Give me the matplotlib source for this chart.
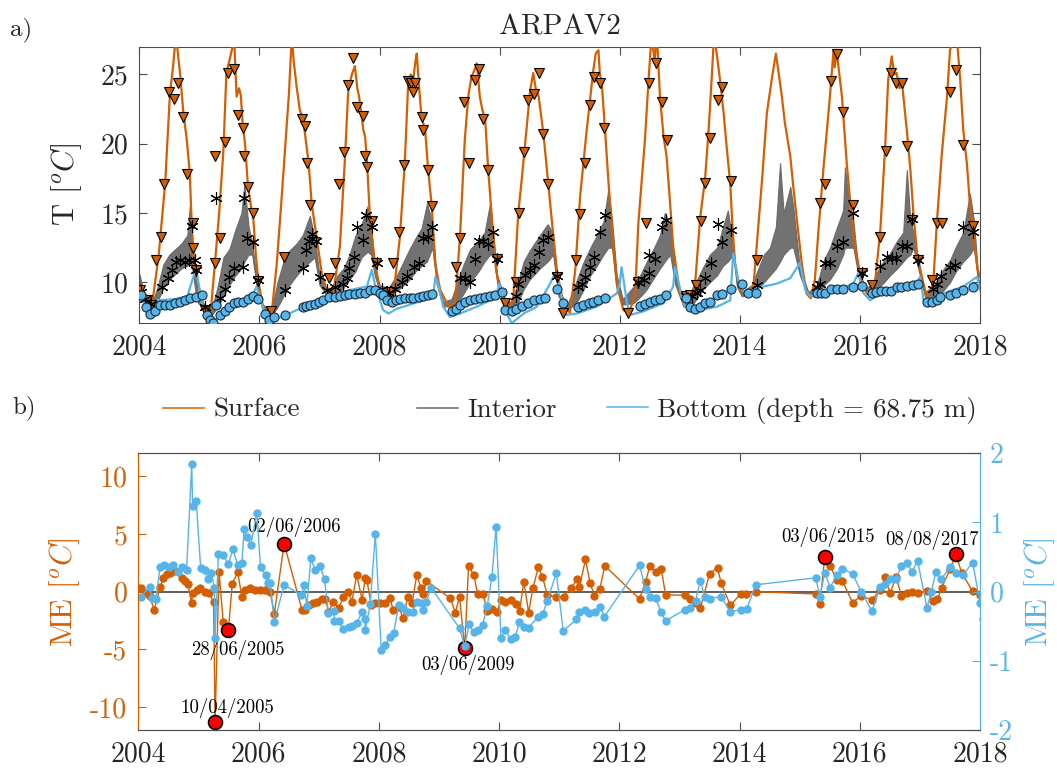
import matplotlib
matplotlib.use('Agg')
import matplotlib.pyplot as plt
from matplotlib.lines import Line2D

plt.rcParams['font.family'] = 'cmr10'
plt.rcParams['mathtext.fontset'] = 'cm'
plt.rcParams['axes.unicode_minus'] = False

ORANGE = '#D55E00'
BLUE = '#56B4E9'
GRAY = '#666666'
SPINE = '#4d4d4d'

# ---- panel a: model series (decimal year, deg C) ----
surface = [
    (2004.0, 9.45), (2004.1, 8.8), (2004.2, 8.0), (2004.32, 11.85), (2004.43, 17.1), (2004.51, 23.6),
    (2004.56, 25.5), (2004.61, 27.8), (2004.65, 26.2), (2004.68, 25.0), (2004.73, 22.4), (2004.79, 20.3),
    (2004.84, 17.9), (2004.87, 14.5), (2004.91, 11.5), (2004.95, 10.5), (2005.0, 9.5), (2005.09, 8.0),
    (2005.18, 7.5), (2005.26, 11.4), (2005.33, 15.0), (2005.4, 19.5), (2005.45, 25.1), (2005.5, 26.0),
    (2005.58, 27.5), (2005.62, 23.4), (2005.66, 24.0), (2005.69, 23.5), (2005.72, 21.5), (2005.76, 20.0),
    (2005.81, 16.9), (2005.86, 15.5), (2005.9, 14.5), (2005.94, 12.0), (2005.98, 10.2), (2006.04, 8.6),
    (2006.1, 7.8), (2006.2, 7.6), (2006.29, 11.4), (2006.36, 15.5), (2006.43, 19.8), (2006.49, 23.5),
    (2006.54, 27.8), (2006.57, 26.0), (2006.62, 24.1), (2006.67, 22.5), (2006.73, 21.7), (2006.78, 20.0),
    (2006.82, 18.6), (2006.87, 15.7), (2006.95, 13.3), (2007.04, 10.6), (2007.12, 9.45), (2007.23, 9.2),
    (2007.34, 12.6), (2007.42, 18.6), (2007.48, 23.9), (2007.54, 25.0), (2007.59, 25.6), (2007.63, 24.0),
    (2007.66, 23.4), (2007.7, 22.0), (2007.73, 21.0), (2007.76, 20.5), (2007.79, 18.8), (2007.84, 14.7),
    (2007.91, 11.85), (2008.0, 9.45), (2008.12, 9.0), (2008.23, 9.0), (2008.34, 13.3), (2008.42, 18.6),
    (2008.48, 24.6), (2008.52, 25.0), (2008.56, 24.6), (2008.6, 26.0), (2008.62, 26.5), (2008.66, 24.0),
    (2008.7, 21.9), (2008.76, 21.0), (2008.81, 18.1), (2008.87, 15.5), (2008.925, 11.4), (2009.01, 9.45),
    (2009.15, 8.25), (2009.26, 8.5), (2009.34, 13.3), (2009.42, 20.3), (2009.48, 23.5), (2009.53, 24.8),
    (2009.58, 25.3), (2009.62, 25.8), (2009.67, 23.4), (2009.71, 22.5), (2009.76, 21.7), (2009.81, 18.1),
    (2009.87, 14.7), (2009.94, 10.9), (2010.03, 9.0), (2010.15, 7.8), (2010.23, 9.0), (2010.31, 15.0),
    (2010.37, 17.5), (2010.42, 19.8), (2010.51, 23.9), (2010.56, 25.1), (2010.6, 24.0), (2010.65, 23.4),
    (2010.73, 20.7), (2010.81, 17.1), (2010.895, 13.3), (2010.95, 10.9), (2011.06, 8.5), (2011.17, 7.8),
    (2011.26, 10.9), (2011.34, 16.2), (2011.45, 21.0), (2011.56, 25.3), (2011.6, 26.5), (2011.645, 26.75),
    (2011.67, 25.0), (2011.7, 24.4), (2011.755, 21.0), (2011.81, 17.4), (2011.87, 13.8), (2011.95, 9.9),
    (2012.06, 8.0), (2012.15, 7.8), (2012.255, 9.0), (2012.31, 14.25), (2012.42, 20.3), (2012.48, 24.6),
    (2012.53, 27.8), (2012.58, 26.0), (2012.62, 27.8), (2012.67, 23.4), (2012.73, 20.5), (2012.78, 19.1),
    (2012.83, 16.2), (2012.89, 12.6), (2013.0, 9.2), (2013.12, 8.25), (2013.255, 9.9), (2013.34, 14.7),
    (2013.42, 17.4), (2013.48, 21.0), (2013.53, 24.6), (2013.57, 27.8), (2013.615, 26.5), (2013.67, 24.6),
    (2013.73, 22.2), (2013.78, 19.8), (2013.84, 17.1), (2013.88, 13.8), (2013.92, 11.4), (2014.0, 9.45),
    (2014.14, 9.0), (2014.23, 9.9), (2014.28, 12.6), (2014.37, 17.4), (2014.45, 22.2), (2014.53, 24.6),
    (2014.6, 26.5), (2014.64, 25.3), (2014.7, 23.4), (2014.75, 21.5), (2014.84, 19.1), (2014.89, 16.9),
    (2014.95, 14.5), (2015.03, 11.4), (2015.11, 9.2), (2015.18, 8.85), (2015.25, 10.2), (2015.31, 13.8),
    (2015.39, 18.1), (2015.5, 23.4), (2015.56, 26.75), (2015.58, 25.5), (2015.61, 26.75), (2015.7, 23.4),
    (2015.78, 18.6), (2015.84, 15.7), (2015.92, 12.6), (2016.0, 10.65), (2016.11, 9.2), (2016.18, 9.0),
    (2016.25, 9.9), (2016.34, 13.8), (2016.42, 19.8), (2016.47, 24.6), (2016.53, 26.3), (2016.57, 25.0),
    (2016.61, 25.1), (2016.66, 24.0), (2016.7, 24.4), (2016.78, 21.0), (2016.84, 18.1), (2016.89, 15.0),
    (2016.95, 12.1), (2017.03, 10.4), (2017.11, 9.0), (2017.22, 9.9), (2017.28, 14.25), (2017.36, 19.1),
    (2017.45, 23.4), (2017.5, 26.75), (2017.56, 27.8), (2017.61, 27.8), (2017.67, 24.6), (2017.72, 21.0),
    (2017.78, 18.6), (2017.83, 15.7), (2017.89, 13.3), (2017.96, 10.9), (2018.0, 10.4),
]

# interior: the daily series is very spiky, kept as (year, low, high) envelope
interior = [
    (2004.0, 9.0, 10.6), (2004.1, 8.4, 8.9), (2004.2, 8.0, 8.4), (2004.3, 8.6, 9.6), (2004.4, 9.6, 11.3),
    (2004.5, 10.2, 12.0), (2004.6, 10.6, 12.4), (2004.7, 11.0, 12.8), (2004.8, 11.2, 13.4), (2004.84, 11.5, 15.5),
    (2004.88, 11.0, 12.6), (2004.93, 9.5, 10.8), (2004.98, 8.5, 9.0), (2005.1, 8.0, 8.3), (2005.2, 7.6, 8.0),
    (2005.3, 8.2, 9.6), (2005.4, 9.0, 11.8), (2005.5, 9.8, 12.4), (2005.6, 10.5, 13.8), (2005.7, 11.0, 15.0),
    (2005.75, 11.5, 17.1), (2005.82, 12.0, 14.0), (2005.88, 12.0, 12.8), (2005.95, 9.8, 10.5), (2006.05, 8.0, 8.4),
    (2006.2, 7.6, 8.0), (2006.3, 8.2, 10.0), (2006.4, 9.0, 11.5), (2006.5, 9.8, 12.3), (2006.62, 10.5, 12.8),
    (2006.72, 11.0, 13.4), (2006.84, 11.5, 14.8), (2006.92, 11.8, 13.2), (2007.0, 9.8, 10.5), (2007.1, 9.2, 9.6),
    (2007.2, 9.0, 9.6), (2007.3, 9.2, 10.5), (2007.4, 9.6, 11.0), (2007.5, 10.2, 12.0), (2007.6, 10.8, 13.4),
    (2007.7, 11.8, 14.2), (2007.8, 12.2, 15.5), (2007.86, 12.0, 14.0), (2007.92, 10.5, 11.3), (2008.0, 9.4, 9.8),
    (2008.15, 9.2, 9.6), (2008.3, 9.4, 10.6), (2008.4, 9.8, 11.5), (2008.5, 10.2, 12.4), (2008.6, 10.8, 13.2),
    (2008.7, 11.2, 13.9), (2008.79, 11.5, 15.7), (2008.88, 12.5, 14.3), (2008.95, 9.9, 10.4), (2009.06, 8.25, 8.6),
    (2009.2, 8.3, 8.8), (2009.3, 8.5, 10.1), (2009.4, 9.2, 11.3), (2009.51, 10.0, 12.4), (2009.65, 10.8, 13.0),
    (2009.75, 11.5, 13.6), (2009.84, 12.0, 15.7), (2009.9, 12.0, 13.2), (2009.96, 9.9, 10.5), (2010.09, 8.5, 8.8),
    (2010.2, 8.0, 8.5), (2010.3, 8.5, 9.9), (2010.4, 9.5, 11.5), (2010.5, 10.2, 12.3), (2010.67, 11.0, 13.4),
    (2010.8, 11.5, 14.2), (2010.89, 12.0, 13.5), (2010.98, 9.0, 9.6), (2011.12, 8.0, 8.3), (2011.28, 8.5, 10.1),
    (2011.4, 9.5, 11.5), (2011.51, 10.5, 12.5), (2011.62, 11.2, 13.4), (2011.73, 12.0, 14.4), (2011.81, 12.5, 16.7),
    (2011.87, 12.5, 14.6), (2011.95, 9.5, 10.5), (2012.05, 8.4, 8.8), (2012.23, 8.5, 9.7), (2012.35, 9.0, 10.6),
    (2012.45, 9.5, 11.5), (2012.55, 10.2, 12.3), (2012.67, 11.0, 13.4), (2012.75, 11.5, 15.0), (2012.84, 12.0, 14.2),
    (2012.92, 9.9, 10.5), (2013.06, 8.25, 8.6), (2013.23, 8.5, 9.7), (2013.39, 9.5, 11.1), (2013.5, 10.0, 12.0),
    (2013.62, 10.5, 12.5), (2013.72, 11.2, 14.0), (2013.8, 11.5, 15.2), (2013.89, 12.0, 12.6), (2013.95, 9.7, 10.0),
    (2014.03, 9.0, 9.3), (2014.2, 9.2, 9.8), (2014.28, 9.5, 10.7), (2014.4, 10.0, 12.0), (2014.5, 10.5, 12.5),
    (2014.6, 11.0, 14.0), (2014.67, 11.5, 18.6), (2014.73, 12.0, 15.0), (2014.84, 12.5, 16.9), (2014.89, 12.5, 15.4),
    (2015.0, 10.5, 11.0), (2015.14, 9.0, 9.3), (2015.28, 9.0, 9.8), (2015.4, 9.8, 11.6), (2015.5, 10.2, 12.5),
    (2015.62, 11.0, 14.0), (2015.72, 12.0, 15.2), (2015.75, 12.5, 18.3), (2015.82, 12.5, 15.6), (2015.89, 12.5, 14.5),
    (2015.97, 10.6, 11.0), (2016.08, 9.4, 9.6), (2016.2, 9.3, 9.8), (2016.28, 9.5, 10.7), (2016.4, 10.0, 11.6),
    (2016.5, 10.5, 12.1), (2016.62, 11.0, 13.0), (2016.72, 11.5, 13.6), (2016.78, 11.8, 18.1), (2016.84, 12.0, 14.5),
    (2016.89, 12.5, 13.6), (2016.97, 11.0, 11.5), (2017.08, 9.0, 9.3), (2017.22, 8.5, 9.7), (2017.35, 9.2, 10.7),
    (2017.5, 10.0, 11.6), (2017.6, 10.8, 12.6), (2017.72, 11.5, 13.6), (2017.83, 12.0, 16.4), (2017.9, 12.5, 14.4),
    (2017.97, 9.9, 10.3), (2018.0, 9.6, 9.9),
]

bottom = [
    (2004.0, 9.0), (2004.08, 8.5), (2004.15, 7.65), (2004.3, 8.7), (2004.6, 8.8), (2004.8, 9.0), (2004.9, 10.4),
    (2004.95, 10.9), (2005.04, 8.5), (2005.15, 7.3), (2005.23, 7.05), (2005.34, 7.75), (2005.51, 8.25),
    (2005.73, 8.5), (2005.9, 9.2), (2005.95, 9.7), (2006.0, 9.0), (2006.09, 7.8), (2006.18, 7.3), (2006.37, 7.5),
    (2006.62, 8.0), (2006.95, 8.5), (2007.18, 9.0), (2007.51, 9.45), (2007.79, 9.7), (2007.87, 10.9),
    (2007.92, 9.9), (2008.06, 8.0), (2008.15, 7.75), (2008.29, 8.1), (2008.73, 8.7), (2008.9, 9.2),
    (2008.93, 10.4), (2008.97, 10.0), (2009.06, 8.25), (2009.17, 7.5), (2009.34, 7.75), (2009.62, 8.25),
    (2009.84, 8.7), (2009.95, 9.2), (2009.995, 9.9), (2010.09, 8.0), (2010.2, 7.05), (2010.4, 7.75),
    (2010.62, 8.25), (2010.84, 9.9), (2010.92, 10.65), (2010.97, 10.4), (2011.06, 8.25), (2011.12, 7.65),
    (2011.28, 7.75), (2011.62, 8.25), (2011.95, 9.2), (2012.0, 9.9), (2012.03, 11.1), (2012.07, 10.0),
    (2012.12, 8.5), (2012.17, 7.65), (2012.39, 7.9), (2012.73, 8.5), (2012.89, 9.7), (2012.92, 11.1),
    (2012.97, 10.2), (2013.06, 8.5), (2013.14, 8.0), (2013.34, 8.0), (2013.62, 8.25), (2013.84, 8.7),
    (2013.89, 12.1), (2013.95, 10.65), (2014.0, 9.7), (2014.14, 9.0), (2014.28, 9.6), (2014.61, 9.9),
    (2014.84, 10.3), (2015.0, 11.4), (2015.09, 9.45), (2015.17, 9.0), (2015.28, 9.2), (2015.61, 9.45),
    (2015.89, 9.9), (2015.97, 10.65), (2016.06, 9.2), (2016.17, 8.7), (2016.34, 9.2), (2016.61, 9.45),
    (2016.95, 9.9), (2017.0, 10.4), (2017.06, 8.7), (2017.14, 8.25), (2017.39, 9.2), (2017.72, 9.7),
    (2017.95, 10.4), (2018.0, 9.45),
]

# ---- panel a: observations ----
obs_surface = [
    (2004.01, 9.45), (2004.12, 8.7), (2004.2, 8.4), (2004.27, 11.6), (2004.36, 13.25), (2004.41, 17.1),
    (2004.5, 23.7), (2004.58, 23.25), (2004.65, 24.4), (2004.73, 21.9), (2004.8, 17.8), (2004.89, 14.25),
    (2004.9, 12.45), (2004.95, 10.9), (2005.09, 8.0), (2005.26, 19.1), (2005.26, 11.4), (2005.34, 13.2),
    (2005.42, 20.1), (2005.48, 25.1), (2005.57, 25.4), (2005.65, 22.1), (2005.73, 21.1), (2005.75, 19.1),
    (2005.81, 16.9), (2005.89, 15.0), (2005.98, 10.1), (2006.2, 7.9), (2006.41, 11.8), (2006.71, 21.8),
    (2006.76, 21.3), (2006.8, 18.6), (2006.84, 15.6), (2006.92, 12.9), (2007.16, 10.3), (2007.26, 11.4),
    (2007.33, 17.1), (2007.41, 19.4), (2007.48, 24.2), (2007.56, 26.15), (2007.62, 22.65), (2007.72, 22.0),
    (2007.76, 19.1), (2007.79, 18.35), (2007.87, 14.4), (2007.94, 11.4), (2008.19, 9.3), (2008.23, 11.4),
    (2008.33, 13.6), (2008.4, 18.5), (2008.48, 24.5), (2008.52, 24.4), (2008.55, 23.75), (2008.59, 24.4),
    (2008.7, 21.9), (2008.73, 21.0), (2008.8, 18.1), (2008.87, 15.5), (2009.27, 11.1), (2009.34, 13.2),
    (2009.41, 23.0), (2009.49, 18.6), (2009.59, 24.6), (2009.65, 25.4), (2009.73, 21.8), (2009.8, 18.1),
    (2009.96, 11.7), (2010.09, 8.5), (2010.27, 10.0), (2010.33, 15.0), (2010.41, 19.4), (2010.48, 23.15),
    (2010.57, 23.6), (2010.65, 25.1), (2010.73, 20.7), (2010.8, 17.1), (2010.95, 10.4), (2011.06, 7.8),
    (2011.27, 11.6), (2011.34, 14.9), (2011.42, 18.6), (2011.51, 22.8), (2011.57, 24.8), (2011.67, 24.35),
    (2011.73, 21.1), (2012.13, 7.8), (2012.31, 10.0), (2012.44, 14.25), (2012.48, 24.35), (2012.6, 25.8),
    (2012.7, 23.0), (2012.78, 20.3), (2013.1, 9.0), (2013.17, 9.1), (2013.27, 9.8), (2013.35, 14.4),
    (2013.42, 17.2), (2013.5, 20.4), (2013.64, 23.15), (2013.7, 24.1), (2013.85, 17.3), (2014.28, 11.6),
    (2015.34, 15.7), (2015.42, 17.1), (2015.52, 24.5), (2015.61, 26.5), (2015.71, 22.3), (2015.88, 15.6),
    (2016.03, 10.7), (2016.2, 9.8), (2016.34, 13.3), (2016.44, 19.5), (2016.51, 25.1), (2016.6, 24.35),
    (2016.7, 24.35), (2016.78, 19.8), (2016.86, 14.5), (2016.97, 11.6), (2017.2, 10.2), (2017.28, 14.3),
    (2017.36, 14.3), (2017.5, 23.75), (2017.6, 25.3), (2017.72, 19.9), (2017.88, 14.1),
]

obs_interior = [
    (2004.02, 9.3), (2004.1, 8.8), (2004.19, 8.45), (2004.37, 9.7), (2004.47, 10.3), (2004.54, 10.9),
    (2004.61, 11.5), (2004.68, 11.6), (2004.76, 11.5), (2004.83, 11.6), (2004.87, 14.1), (2004.92, 11.6),
    (2004.95, 10.9), (2005.1, 8.25), (2005.28, 16.1), (2005.34, 8.85), (2005.43, 9.55), (2005.5, 10.4),
    (2005.58, 11.0), (2005.73, 11.1), (2005.75, 16.1), (2005.8, 13.2), (2005.89, 12.9), (2005.98, 10.2),
    (2006.43, 9.45), (2006.72, 11.0), (2006.78, 12.3), (2006.82, 13.0), (2006.87, 13.5), (2006.95, 13.0),
    (2007.01, 10.4), (2007.13, 9.45), (2007.26, 9.7), (2007.4, 9.9), (2007.46, 10.3), (2007.5, 11.0),
    (2007.57, 11.85), (2007.62, 14.0), (2007.73, 13.05), (2007.78, 14.85), (2007.87, 14.0), (2007.96, 11.4),
    (2008.04, 9.55), (2008.15, 9.2), (2008.26, 9.55), (2008.37, 10.05), (2008.46, 10.45), (2008.57, 11.1),
    (2008.66, 11.4), (2008.73, 13.2), (2008.8, 13.25), (2008.87, 14.0), (2009.34, 10.3), (2009.42, 10.3),
    (2009.5, 10.05), (2009.59, 11.7), (2009.66, 13.0), (2009.73, 13.0), (2009.8, 12.8), (2009.885, 13.65),
    (2009.95, 11.7), (2010.28, 9.0), (2010.31, 9.9), (2010.42, 10.55), (2010.51, 10.9), (2010.57, 11.25),
    (2010.66, 12.2), (2010.73, 13.05), (2010.8, 13.3), (2010.95, 10.45), (2011.31, 9.7), (2011.37, 9.9),
    (2011.42, 10.4), (2011.51, 11.1), (2011.57, 11.85), (2011.67, 13.65), (2011.76, 14.85), (2012.31, 10.05),
    (2012.41, 10.2), (2012.48, 10.65), (2012.49, 12.0), (2012.59, 11.65), (2012.7, 14.0), (2012.77, 14.5),
    (2013.1, 9.0), (2013.2, 9.0), (2013.28, 9.2), (2013.34, 9.45), (2013.42, 10.3), (2013.52, 11.4),
    (2013.64, 14.2), (2013.7, 12.9), (2013.85, 13.8), (2014.28, 9.8), (2015.28, 9.7), (2015.34, 9.9),
    (2015.42, 11.4), (2015.5, 11.4), (2015.61, 12.6), (2015.71, 12.9), (2015.88, 15.0), (2016.03, 10.65),
    (2016.34, 11.2), (2016.45, 11.8), (2016.53, 11.75), (2016.6, 11.75), (2016.7, 12.6), (2016.78, 12.6),
    (2016.86, 14.55), (2016.97, 11.6), (2017.22, 9.55), (2017.29, 9.9), (2017.35, 10.45), (2017.5, 11.1),
    (2017.58, 11.25), (2017.71, 14.0), (2017.88, 13.65),
]

obs_bottom = [
    (2004.03, 9.1), (2004.11, 8.25), (2004.18, 7.75), (2004.26, 7.9), (2004.34, 8.35), (2004.43, 8.35),
    (2004.51, 8.4), (2004.59, 8.5), (2004.68, 8.6), (2004.76, 8.7), (2004.84, 8.85), (2004.95, 8.95),
    (2005.04, 9.1), (2005.12, 7.65), (2005.18, 7.3), (2005.23, 7.1), (2005.28, 8.35), (2005.34, 7.65),
    (2005.43, 7.95), (2005.5, 8.25), (2005.57, 8.5), (2005.65, 8.6), (2005.73, 8.55), (2005.81, 8.8),
    (2005.9, 9.0), (2005.98, 8.8), (2006.1, 7.75), (2006.16, 7.3), (2006.24, 7.5), (2006.43, 7.65),
    (2006.72, 8.25), (2006.78, 8.3), (2006.84, 8.35), (2006.92, 8.45), (2007.0, 8.55), (2007.06, 8.7),
    (2007.16, 8.95), (2007.26, 8.95), (2007.34, 9.05), (2007.42, 9.1), (2007.5, 9.15), (2007.59, 9.15),
    (2007.67, 9.2), (2007.75, 9.25), (2007.84, 9.45), (2007.92, 9.45), (2008.0, 9.2), (2008.05, 9.1),
    (2008.12, 8.7), (2008.2, 8.6), (2008.27, 8.7), (2008.34, 8.8), (2008.43, 8.85), (2008.5, 8.9),
    (2008.56, 8.9), (2008.65, 8.95), (2008.73, 9.0), (2008.81, 9.1), (2008.87, 9.15), (2009.2, 7.9),
    (2009.27, 8.1), (2009.34, 8.4), (2009.42, 8.55), (2009.51, 8.7), (2009.59, 8.8), (2009.67, 8.9),
    (2009.76, 8.95), (2009.84, 9.05), (2009.92, 9.1), (2010.04, 9.3), (2010.09, 8.0), (2010.2, 7.9),
    (2010.28, 8.05), (2010.38, 8.3), (2010.48, 8.5), (2010.57, 8.7), (2010.67, 8.8), (2010.76, 8.9),
    (2010.95, 9.55), (2011.06, 8.5), (2011.31, 8.25), (2011.39, 8.35), (2011.48, 8.5), (2011.56, 8.6),
    (2011.645, 8.7), (2011.755, 8.85), (2012.34, 8.3), (2012.42, 8.45), (2012.5, 8.55), (2012.59, 8.7),
    (2012.67, 8.8), (2012.77, 9.1), (2013.1, 8.9), (2013.17, 8.25), (2013.25, 8.05), (2013.34, 8.25),
    (2013.42, 8.5), (2013.5, 8.6), (2013.615, 9.1), (2013.7, 9.15), (2013.85, 9.55), (2014.03, 9.9),
    (2014.13, 9.2), (2014.27, 9.2), (2015.28, 9.2), (2015.35, 9.2), (2015.42, 9.25), (2015.51, 9.5),
    (2015.61, 9.5), (2015.71, 9.55), (2015.88, 9.7), (2016.03, 9.75), (2016.2, 9.2), (2016.27, 9.3),
    (2016.35, 9.35), (2016.44, 9.4), (2016.51, 9.4), (2016.61, 9.7), (2016.68, 9.65), (2016.78, 9.75),
    (2016.88, 9.8), (2016.97, 9.9), (2017.11, 8.6), (2017.2, 8.55), (2017.28, 8.7), (2017.33, 8.95),
    (2017.5, 9.1), (2017.6, 9.2), (2017.72, 9.45), (2017.88, 9.7),
]

# ---- panel b: mean error, surface (left axis) and bottom (right axis) ----
me_surface = [
    (2004.0, 0.3), (2004.04, 0.35), (2004.12, -0.15), (2004.19, -0.4), (2004.26, -1.6), (2004.36, 0.4),
    (2004.41, 1.15), (2004.47, 1.5), (2004.52, 1.6), (2004.6, 1.8), (2004.72, 1.15), (2004.77, 0.9),
    (2004.82, 0.7), (2004.885, -1.0), (2004.9, -0.15), (2004.97, 0.15), (2005.02, 0.3), (2005.11, 0.0),
    (2005.18, -0.15), (2005.25, -0.9), (2005.274, -11.33), (2005.34, 1.7), (2005.41, -2.65), (2005.496, -3.35),
    (2005.56, 0.7), (2005.65, 1.7), (2005.72, -0.45), (2005.77, 0.15), (2005.86, 0.3), (2005.94, 0.15),
    (2006.02, 0.15), (2006.11, 0.15), (2006.19, 0.0), (2006.26, -1.9), (2006.423, 4.16), (2006.72, -1.6),
    (2006.77, -1.55), (2006.83, -1.15), (2006.91, -1.0), (2006.97, -0.9), (2007.05, -0.6), (2007.11, -0.6),
    (2007.16, -1.75), (2007.24, -0.9), (2007.33, -1.45), (2007.41, -0.45), (2007.49, 0.0), (2007.55, -0.87),
    (2007.63, 1.45), (2007.72, -0.72), (2007.77, 1.16), (2007.8, 1.0), (2007.87, -1.16), (2007.94, -1.0),
    (2008.02, -1.0), (2008.1, -0.95), (2008.18, -0.58), (2008.24, -1.6), (2008.33, -1.3), (2008.4, -2.3),
    (2008.48, -0.43), (2008.55, -1.0), (2008.63, 1.45), (2008.7, 0.3), (2008.73, -0.2), (2008.79, 0.92),
    (2009.19, -0.58), (2009.27, -1.82), (2009.34, -0.43), (2009.426, -4.91), (2009.49, 2.2), (2009.58, 1.45),
    (2009.64, -0.2), (2009.73, -0.2), (2009.8, -1.65), (2009.88, -1.53), (2009.965, -1.73), (2010.03, -0.72),
    (2010.1, -0.87), (2010.19, -0.72), (2010.28, -1.07), (2010.34, -1.65), (2010.41, 0.87), (2010.49, -1.82),
    (2010.56, 0.29), (2010.65, 2.1), (2010.72, 1.3), (2010.8, -0.29), (2010.94, -0.43), (2011.07, -0.43),
    (2011.19, 0.29), (2011.3, 1.07), (2011.335, 0.38), (2011.435, 2.8), (2011.51, 0.78), (2011.585, -0.35),
    (2011.674, 0.23), (2011.757, 2.25), (2012.334, -0.64), (2012.434, 0.84), (2012.506, 2.23), (2012.6, 1.7),
    (2012.695, 2.0), (2012.767, -0.26), (2013.09, -0.32), (2013.167, -0.64), (2013.267, -1.0), (2013.345, -1.45),
    (2013.5, 1.56), (2013.633, 2.08), (2013.69, 0.75), (2013.845, -1.18), (2014.016, -0.2), (2014.1, -0.23),
    (2014.27, 0.0), (2015.266, -0.2), (2015.333, -1.1), (2015.416, 3.03), (2015.505, 2.25), (2015.616, 1.0),
    (2015.71, 0.92), (2015.877, -0.95), (2016.02, -0.38), (2016.2, -0.72), (2016.337, 0.14), (2016.42, 1.27),
    (2016.504, -0.14), (2016.6, 1.3), (2016.69, -0.35), (2016.776, -0.14), (2016.865, -0.06), (2016.96, -0.14),
    (2017.115, 0.06), (2017.21, -0.78), (2017.29, -0.66), (2017.36, 0.35), (2017.5, 1.94), (2017.598, 3.24),
    (2017.69, 1.65), (2017.875, 0.03), (2018.0, -0.29),
]

me_bottom = [
    (2004.04, -0.07), (2004.19, 0.07), (2004.22, -0.09), (2004.29, -0.1), (2004.36, 0.36), (2004.43, 0.39),
    (2004.5, 0.35), (2004.58, 0.38), (2004.65, 0.29), (2004.73, 0.35), (2004.8, 0.31), (2004.886, 1.84),
    (2004.9, 1.24), (2004.96, 1.31), (2005.035, 0.34), (2005.11, 0.31), (2005.15, 0.19), (2005.21, 0.27),
    (2005.263, 0.06), (2005.274, -0.67), (2005.33, 0.54), (2005.41, 0.53), (2005.496, 0.4), (2005.57, 0.61),
    (2005.65, 0.39), (2005.72, 0.41), (2005.757, 0.9), (2005.8, 0.79), (2005.87, 0.68), (2005.97, 1.14),
    (2006.03, 0.35), (2006.12, 0.24), (2006.15, 0.12), (2006.19, 0.13), (2006.26, -0.44), (2006.423, 0.1),
    (2006.706, -0.05), (2006.757, 0.09), (2006.8, -0.21), (2006.867, 0.48), (2006.94, 0.31), (2007.02, 0.37),
    (2007.095, 0.18), (2007.16, -0.31), (2007.245, -0.28), (2007.26, -0.42), (2007.33, -0.42), (2007.41, -0.54),
    (2007.494, -0.51), (2007.55, -0.5), (2007.63, -0.45), (2007.72, -0.3), (2007.77, -0.39), (2007.77, -0.56),
    (2007.855, -0.18), (2007.94, 0.84), (2008.038, -0.85), (2008.094, -0.77), (2008.19, -0.66), (2008.244, -0.6),
    (2008.33, -0.19), (2008.4, -0.24), (2008.48, -0.29), (2008.56, -0.29), (2008.63, -0.15), (2008.72, -0.16),
    (2008.726, -0.27), (2008.787, -0.15), (2008.865, 0.06), (2009.34, -0.53), (2009.426, -0.79), (2009.5, -0.47),
    (2009.575, -0.59), (2009.65, -0.55), (2009.725, -0.48), (2009.8, -0.21), (2009.88, 0.21), (2009.948, 0.94),
    (2010.03, -0.67), (2010.1, -0.55), (2010.19, -0.69), (2010.27, -0.65), (2010.336, -0.44), (2010.41, -0.51),
    (2010.49, -0.52), (2010.64, -0.37), (2010.725, -0.32), (2010.8, -0.13), (2010.95, 0.27), (2011.064, -0.57),
    (2011.285, -0.4), (2011.324, -0.3), (2011.424, -0.27), (2011.5, -0.31), (2011.59, -0.3), (2011.674, -0.22),
    (2011.75, -0.36), (2012.334, 0.38), (2012.434, 0.04), (2012.506, -0.07), (2012.6, -0.09), (2012.695, -0.3),
    (2012.767, -0.42), (2013.09, -0.26), (2013.167, -0.23), (2013.267, -0.13), (2013.345, 0.16), (2013.422, -0.08),
    (2013.5, -0.1), (2013.69, -0.07), (2013.845, -0.29), (2014.016, -0.26), (2014.116, -0.25), (2014.27, 0.1),
    (2015.266, 0.2), (2015.333, -0.07), (2015.416, 0.27), (2015.505, 0.06), (2015.616, 0.24), (2015.71, 0.33),
    (2015.877, 0.26), (2016.02, 0.0), (2016.2, -0.28), (2016.337, 0.07), (2016.42, 0.11), (2016.504, 0.19),
    (2016.6, 0.19), (2016.69, 0.37), (2016.776, 0.42), (2016.865, 0.29), (2016.96, 0.44), (2017.115, -0.23),
    (2017.19, 0.0), (2017.264, 0.29), (2017.348, 0.18), (2017.5, 0.35), (2017.598, 0.27), (2017.71, 0.24),
    (2017.875, 0.42), (2018.0, -0.17), (2018.05, -0.4),
]

# largest surface errors, flagged with their dates
flagged = [
    (2005.274, -11.33, '10/04/2005', (9, 10)),
    (2005.496, -3.35, '28/06/2005', (7, -14)),
    (2006.423, 4.16, '02/06/2006', (7, 12)),
    (2009.426, -4.91, '03/06/2009', (2, -12)),
    (2015.416, 3.03, '03/06/2015', (2, 14)),
    (2017.598, 3.24, '08/08/2017', (-17, 10)),
]


def unzip(pairs):
    return [p[0] for p in pairs], [p[1] for p in pairs]


fig = plt.figure(figsize=(10.57, 7.69), dpi=100)

# ---------------- panel a ----------------
ax = fig.add_axes([0.1318, 0.58, 0.7954, 0.3593])
it = [p[0] for p in interior]
ax.fill_between(it, [p[1] for p in interior], [p[2] for p in interior],
                color=GRAY, lw=0.8, alpha=0.92, zorder=2)
ax.plot(*unzip(surface), color=ORANGE, lw=1.6, zorder=3)
ax.plot(*unzip(bottom), color=BLUE, lw=1.6, zorder=3)
ax.plot(*unzip(obs_surface), ls='none', marker='v', ms=7.5, mfc=ORANGE, mec='k', mew=0.8, zorder=4)
ax.plot(*unzip(obs_interior), ls='none', marker=(6, 2, 0), ms=9, color='k', mew=0.8, zorder=4)
ax.plot(*unzip(obs_bottom), ls='none', marker='o', ms=6.5, mfc=BLUE, mec='#1a2a3a', mew=0.8, zorder=4)

ax.set_xlim(2004, 2018)
ax.set_ylim(7.07, 27)
ax.set_xticks(range(2004, 2019, 2))
ax.set_yticks([10, 15, 20, 25])
ax.tick_params(direction='in', top=True, right=True, length=5.5, width=0.8,
               color=SPINE, labelcolor='#262626', labelsize=20, pad=8)
for s in ax.spines.values():
    s.set_color(SPINE)
    s.set_linewidth(0.8)
ax.set_ylabel(r'T $[^oC]$', fontsize=22, color='#262626')
ax.yaxis.set_label_coords(-0.066, 0.5)
ax.set_title('ARPAV2', fontsize=21, pad=9, color='#262626')
fig.text(10 / 1057, 1 - 30 / 769, 'a)', fontsize=18, va='center', color='#262626')

# ---------------- legend ----------------
legend_items = [('Surface', ORANGE, 163), ('Interior', GRAY, 417),
                ('Bottom (depth = 68.75 m)', BLUE, 607)]
for label, col, xpix in legend_items:
    fig.legend(handles=[Line2D([], [], color=col, lw=1.1)], labels=[label],
               loc='center left', bbox_to_anchor=(xpix / 1057, 1 - 410 / 769),
               frameon=False, fontsize=19.5, handlelength=1.5, handletextpad=0.35,
               borderpad=0, borderaxespad=0, labelcolor='#262626')
fig.text(12 / 1057, 1 - 408 / 769, 'b)', fontsize=18, va='center', color='#262626')

# ---------------- panel b ----------------
bx = fig.add_axes([0.1310, 0.0507, 0.7963, 0.3598])
bx.axhline(0, color='#333333', lw=1.1, zorder=1)
bx.plot(*unzip(me_surface), color=ORANGE, lw=1.0, marker='o', ms=5, zorder=2)
for x, y, txt, off in flagged:
    bx.plot(x, y, marker='o', ms=10, mfc='red', mec='k', mew=1.2, ls='none', zorder=3)
    bx.annotate(txt, (x, y), xytext=off, textcoords='offset points', ha='center', va='center',
                fontsize=13.5, color='k', zorder=4)
bx.set_xlim(2004, 2018)
bx.set_ylim(-12, 12)
bx.set_xticks(range(2004, 2019, 2))
bx.set_yticks([-10, -5, 0, 5, 10])
bx.tick_params(axis='x', direction='in', top=True, length=5.5, width=0.8, color=SPINE,
               labelcolor='#262626', labelsize=20, pad=8)
bx.tick_params(axis='y', direction='in', length=5.5, width=0.8, color=ORANGE,
               labelcolor=ORANGE, labelsize=20, pad=8)
bx.set_ylabel(r'ME $[^oC]$', fontsize=22, color=ORANGE)
bx.yaxis.set_label_coords(-0.067, 0.5)

bx2 = bx.twinx()
bx2.plot(*unzip(me_bottom), color=BLUE, lw=1.0, marker='o', ms=5, zorder=2)
bx2.set_xlim(2004, 2018)
bx2.set_ylim(-2, 2)
bx2.set_yticks([-2, -1, 0, 1, 2])
bx2.tick_params(axis='y', direction='in', length=5.5, width=0.8, color=BLUE,
                labelcolor=BLUE, labelsize=20, pad=7)
bx2.set_ylabel(r'ME $[^oC]$', fontsize=22, color=BLUE)
bx2.yaxis.set_label_coords(1.05, 0.5)

for a in (bx, bx2):
    a.spines['top'].set_color(SPINE)
    a.spines['bottom'].set_color(SPINE)
    a.spines['left'].set_color(ORANGE)
    a.spines['right'].set_color(BLUE)
    for s in a.spines.values():
        s.set_linewidth(0.8)

fig.savefig('out.png', dpi=100)
